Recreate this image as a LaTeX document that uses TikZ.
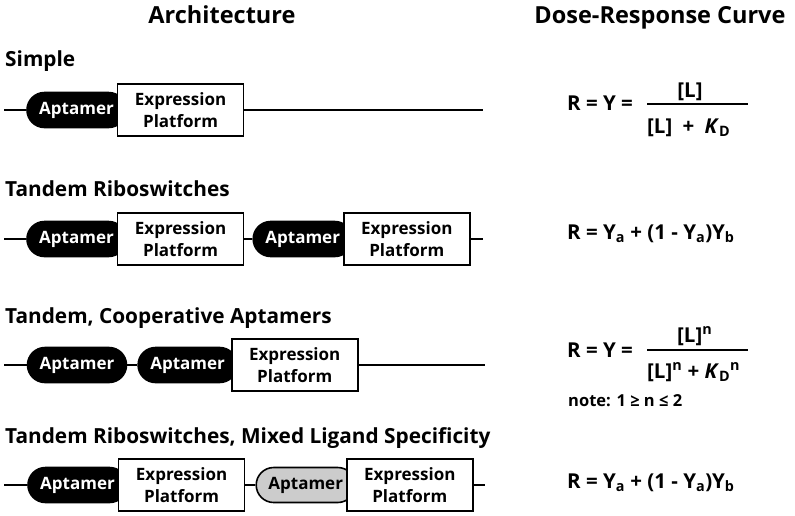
\documentclass[tikz,border=0pt]{standalone}
\usepackage{fontspec}
\setmainfont{Open Sans}
\usetikzlibrary{positioning}

\begin{document}
\begin{tikzpicture}[x=1pt, y=-1pt,
  apt/.style = {draw, line width=1.6pt, fill=black, text=white, rounded corners=17.5pt,
    minimum width=99pt, minimum height=35pt, inner sep=0pt, font=\fontsize{17}{17}\selectfont\bfseries},
  aptgray/.style = {apt, fill=gray!40, text=black},
  plat/.style = {draw, line width=1.6pt, fill=white, minimum width=126pt, minimum height=52pt,
    inner sep=0pt, align=center, font=\fontsize{17}{22}\selectfont\bfseries},
  row/.style = {anchor=base west, inner sep=0pt, font=\fontsize{20.8}{20.8}\selectfont\bfseries},
  head/.style = {anchor=base, inner sep=0pt, font=\fontsize{23.5}{23.5}\selectfont\bfseries},
  eq/.style = {anchor=base west, inner sep=0pt, font=\fontsize{20.5}{20.5}\selectfont\bfseries},
  wire/.style = {line width=1.6pt}]
  \useasboundingbox (0,0) rectangle (795,515);

  \node[head] (arch) at (222,23) {Architecture};
  \node[head] (dose) at (660,23) {Dose-Response Curve};

  % simple
  \node[row] (simple) at (5,66) {Simple};
  \node[apt] (apt1) at (76.5,110) {Aptamer};
  \node[plat, right=-10pt of apt1] (plat1) {Expression\\Platform};
  \coordinate (s1) at (4,110);
  \coordinate (e1) at (483,110);
  \draw[wire] (s1) -- (apt1);
  \draw[wire] (plat1) -- (e1);

  % tandem riboswitches
  \node[row] (tandem) at (5,196) {Tandem Riboswitches};
  \node[apt] (apt2) at (76.5,239) {Aptamer};
  \node[plat, right=-10pt of apt2] (plat2) {Expression\\Platform};
  \node[apt, right=8pt of plat2] (apt3) {Aptamer};
  \node[plat, right=-10pt of apt3] (plat3) {Expression\\Platform};
  \coordinate (s2) at (4,239);
  \coordinate (e2) at (483,239);
  \draw[wire] (s2) -- (apt2);
  \draw[wire] (plat2) -- (apt3);
  \draw[wire] (plat3) -- (e2);

  % cooperative
  \node[row] (coop) at (5,323) {Tandem, Cooperative Aptamers};
  \node[apt] (apt4) at (77,365) {Aptamer};
  \node[apt, right=10pt of apt4] (apt5) {Aptamer};
  \node[plat, right=-7pt of apt5] (plat4) {Expression\\Platform};
  \coordinate (s3) at (4,365);
  \coordinate (e3) at (485,365);
  \draw[wire] (s3) -- (apt4);
  \draw[wire] (apt4) -- (apt5);
  \draw[wire] (plat4) -- (e3);

  % mixed ligand
  \node[row] (mixed) at (5,443) {Tandem Riboswitches, Mixed Ligand Specificity};
  \node[apt] (apt6) at (77.5,485) {Aptamer};
  \node[plat, right=-10pt of apt6] (plat5) {Expression\\Platform};
  \node[aptgray, right=10pt of plat5] (apt7) {Aptamer};
  \node[plat, right=-10pt of apt7] (plat6) {Expression\\Platform};
  \coordinate (s4) at (4,485);
  \coordinate (e4) at (485,485);
  \draw[wire] (s4) -- (apt6);
  \draw[wire] (plat5) -- (apt7);
  \draw[wire] (plat6) -- (e4);

  % dose-response curves
  \node[eq] (eq1) at (567,110) {R = Y =};
  \node[eq, anchor=base] (num1) at (690,97) {[L]};
  \node[eq] (den1) at (647,133) {[L]\enspace+\enspace\textit{K}\textsubscript{D}};
  \coordinate (b1a) at (647,104);
  \coordinate (b1b) at (748,104);
  \draw[line width=1.5pt] (b1a) -- (b1b);

  \node[eq] (eq2) at (567,239) {R = Y\textsubscript{a} + (1 - Y\textsubscript{a})Y\textsubscript{b}};

  \node[eq] (eq3) at (567,357) {R = Y =};
  \node[eq] (num3) at (677,342) {[L]\textsuperscript{n}};
  \node[eq] (den3) at (647,378) {[L]\textsuperscript{n} + \textit{K}\textsubscript{D}\textsuperscript{n}};
  \coordinate (b3a) at (647,350);
  \coordinate (b3b) at (748,350);
  \draw[line width=1.5pt] (b3a) -- (b3b);
  \node[eq, font=\fontsize{16.5}{16.5}\selectfont\bfseries] (note) at (568,406) {note: 1 ≥ n ≤ 2};

  \node[eq] (eq4) at (567,488) {R = Y\textsubscript{a} + (1 - Y\textsubscript{a})Y\textsubscript{b}};
\end{tikzpicture}
\end{document}
